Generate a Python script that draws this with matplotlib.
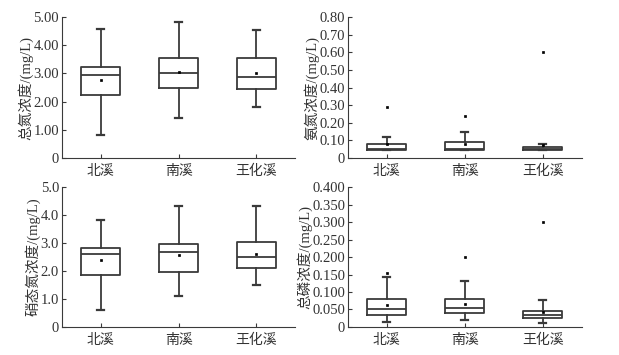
import matplotlib
matplotlib.use('Agg')
import matplotlib.pyplot as plt
from matplotlib.ticker import FixedLocator

plt.rcParams['font.family'] = ['Liberation Serif', 'Noto Sans CJK SC']
plt.rcParams['font.size'] = 10

sites = ['北溪', '南溪', '王化溪']

# 总氮 TN
tn_whislo = [0.82, 1.41, 1.82]
tn_q1 = [2.23, 2.48, 2.46]
tn_med = [2.94, 3.03, 2.86]
tn_q3 = [3.21, 3.56, 3.56]
tn_whishi = [4.57, 4.81, 4.54]
tn_mean = [2.78, 3.04, 3.01]
tn_fliers = [[], [], []]

# 氨氮 NH3-N
nh_whislo = [0.047, 0.047, 0.047]
nh_q1 = [0.047, 0.047, 0.047]
nh_med = [0.050, 0.050, 0.050]
nh_q3 = [0.078, 0.089, 0.060]
nh_whishi = [0.119, 0.147, 0.081]
nh_mean = [0.079, 0.079, 0.072]
nh_fliers = [[0.287], [0.236], [0.600]]

# 硝态氮 NO3-N
no_whislo = [0.59, 1.10, 1.50]
no_q1 = [1.86, 1.95, 2.10]
no_med = [2.61, 2.67, 2.50]
no_q3 = [2.81, 2.95, 3.04]
no_whishi = [3.82, 4.31, 4.31]
no_mean = [2.38, 2.58, 2.62]
no_fliers = [[], [], []]

# 总磷 TP
tp_whislo = [0.013, 0.019, 0.012]
tp_q1 = [0.034, 0.040, 0.025]
tp_med = [0.050, 0.054, 0.033]
tp_q3 = [0.079, 0.079, 0.047]
tp_whishi = [0.143, 0.131, 0.077]
tp_mean = [0.064, 0.065, 0.044]
tp_fliers = [[0.153], [0.201], [0.300]]

panels = [
    ('总氮浓度/(mg/L)', tn_whislo, tn_q1, tn_med, tn_q3, tn_whishi, tn_mean, tn_fliers,
     [0, 1, 2, 3, 4, 5], ['0', '1.00', '2.00', '3.00', '4.00', '5.00']),
    ('氨氮浓度/(mg/L)', nh_whislo, nh_q1, nh_med, nh_q3, nh_whishi, nh_mean, nh_fliers,
     [0, 0.1, 0.2, 0.3, 0.4, 0.5, 0.6, 0.7, 0.8],
     ['0', '0.10', '0.20', '0.30', '0.40', '0.50', '0.60', '0.70', '0.80']),
    ('硝态氮浓度/(mg/L)', no_whislo, no_q1, no_med, no_q3, no_whishi, no_mean, no_fliers,
     [0, 1, 2, 3, 4, 5], ['0', '1.0', '2.0', '3.0', '4.0', '5.0']),
    ('总磷浓度/(mg/L)', tp_whislo, tp_q1, tp_med, tp_q3, tp_whishi, tp_mean, tp_fliers,
     [0, 0.05, 0.1, 0.15, 0.2, 0.25, 0.3, 0.35, 0.4],
     ['0', '0.050', '0.100', '0.150', '0.200', '0.250', '0.300', '0.350', '0.400']),
]

rects = [
    [0.100, 0.555, 0.377, 0.397],
    [0.562, 0.555, 0.378, 0.397],
    [0.100, 0.079, 0.377, 0.394],
    [0.562, 0.079, 0.378, 0.394],
]

lc = '#3a3a3a'
fig = plt.figure(figsize=(6.19, 3.55), dpi=100)

for rect, p in zip(rects, panels):
    label, wlo, q1, med, q3, whi, mean, fl, ticks, tlabels = p
    ax = fig.add_axes(rect)
    stats = []
    for i in range(len(sites)):
        stats.append(dict(label=sites[i], whislo=wlo[i], q1=q1[i], med=med[i],
                          q3=q3[i], whishi=whi[i], mean=mean[i], fliers=fl[i]))
    ax.bxp(stats, positions=[1, 2, 3], widths=0.5, capwidths=0.09, showmeans=True,
           boxprops=dict(color=lc, linewidth=1.3),
           whiskerprops=dict(color=lc, linewidth=1.3),
           capprops=dict(color=lc, linewidth=1.6),
           medianprops=dict(color=lc, linewidth=1.3),
           meanprops=dict(marker='s', markersize=1.8, markerfacecolor='black',
                          markeredgecolor='black', markeredgewidth=0.5),
           flierprops=dict(marker='s', markersize=1.8, markerfacecolor='black',
                           markeredgecolor='black', markeredgewidth=0.5))
    ax.set_xlim(0.5, 3.5)
    ax.set_ylim(ticks[0], ticks[-1])
    ax.yaxis.set_major_locator(FixedLocator(ticks))
    ax.set_yticklabels(tlabels)
    ax.set_ylabel(label, labelpad=0, fontsize=10.5, color='#333333')
    ax.spines['top'].set_visible(False)
    ax.spines['right'].set_visible(False)
    ax.spines['left'].set_color(lc)
    ax.spines['bottom'].set_color(lc)
    ax.tick_params(direction='in', length=3, color=lc, labelcolor='#333333')
    ax.tick_params(axis='y', pad=2, labelsize=10.5)
    ax.tick_params(axis='x', pad=5, labelsize=10)

fig.savefig('out.png', dpi=100)
